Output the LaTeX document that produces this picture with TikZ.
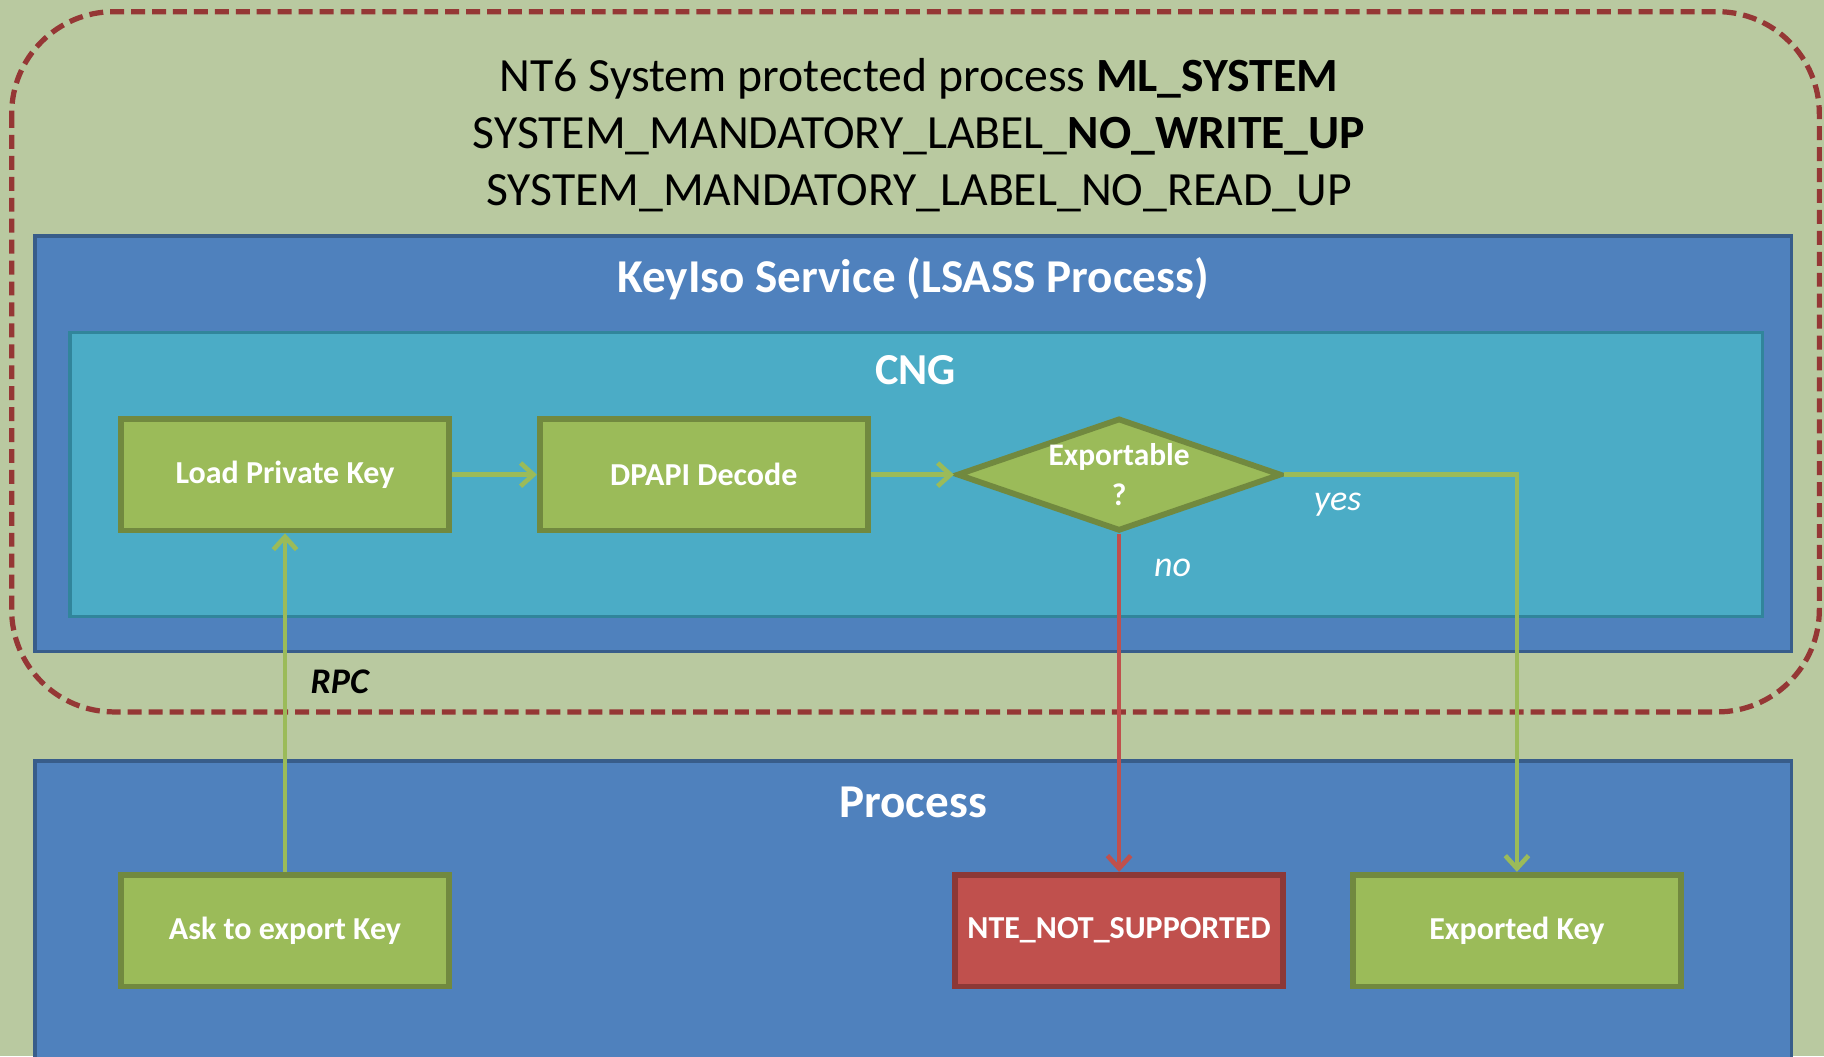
\documentclass[tikz,border=0pt]{standalone}
\usepackage{fontspec}
\setmainfont{Carlito}
\usetikzlibrary{arrows.meta,shapes.geometric}
\definecolor{bgc}{RGB}{185,201,160}
\definecolor{dashc}{RGB}{149,55,53}
\definecolor{bluef}{RGB}{79,129,189}
\definecolor{blued}{RGB}{56,93,138}
\definecolor{tealf}{RGB}{75,172,198}
\definecolor{teald}{RGB}{49,133,155}
\definecolor{greenf}{RGB}{155,187,89}
\definecolor{greend}{RGB}{113,137,63}
\definecolor{redf}{RGB}{192,80,77}
\definecolor{redd}{RGB}{140,56,54}
\tikzset{
  gbox/.style={rectangle, draw=greend, fill=greenf, line width=5pt,
    minimum width=282pt, minimum height=96pt, inner sep=0pt, text=white,
    font=\fontsize{27.5}{32}\selectfont\bfseries},
  rbox/.style={gbox, draw=redd, fill=redf},
  gdia/.style={diamond, draw=greend, fill=greenf, line width=5pt, aspect=2.9,
    minimum width=279pt, minimum height=97pt, inner sep=0pt},
  diatext/.style={text=white, align=center, font=\fontsize{27}{34}\selectfont\bfseries},
  container/.style={line width=3pt},
  boxtitle/.style={text=white, font=\fontsize{40.5}{48}\selectfont\bfseries},
  garr/.style={line width=4pt, draw=greenf, -{Straight Barb[length=11pt,width=20pt]}},
  rarr/.style={line width=4pt, draw=redf, -{Straight Barb[length=11pt,width=20pt]}},
  lblw/.style={text=white, font=\fontsize{31}{36}\selectfont\itshape},
  lblk/.style={text=black, font=\fontsize{31}{36}\selectfont\bfseries\itshape},
}
\begin{document}
\begin{tikzpicture}[x=1pt,y=-1pt]
\useasboundingbox (0,0) rectangle (1568,908);
\clip (0,0) rectangle (1568,908);
\fill[bgc] (0,0) rectangle (1568,908);

% protected process boundary
\draw[dashc, line width=4.5pt, dash pattern=on 12pt off 6pt, rounded corners=88pt]
  (10,10) rectangle (1564,612);
\node[font=\fontsize{41}{49}\selectfont, align=center] (title) at (790,116)
  {NT6 System protected process \textbf{ML\_SYSTEM}\\
   SYSTEM\_MANDATORY\_LABEL\_\textbf{NO\_WRITE\_UP}\\
   SYSTEM\_MANDATORY\_LABEL\_NO\_READ\_UP};

% KeyIso service
\draw[container, fill=bluef, draw=blued] (30,203) rectangle (1540,560);
\node[boxtitle] (keyiso) at (785,240) {KeyIso Service (LSASS Process)};

% CNG
\draw[container, fill=tealf, draw=teald] (60,286) rectangle (1515,530);
\node[boxtitle, font=\fontsize{38}{46}\selectfont\bfseries] (cng) at (787,318) {CNG};

% Process
\draw[container, fill=bluef, draw=blued] (30,654) rectangle (1540,940);
\node[boxtitle] (proc) at (785,690) {Process};

% nodes
\node[gbox] (load) at (245,408) {Load Private Key};
\node[gbox] (dpapi) at (605,408) {DPAPI Decode};
\node[gdia] (exp) at (962,408) {};
\node[diatext] (exptxt) at (exp.center) {Exportable\\?};
\node[gbox] (ask) at (245,800) {Ask to export Key};
\node[rbox] (nte) at (962,800) {NTE\_NOT\_SUPPORTED};
\node[gbox] (expkey) at (1304,800) {Exported Key};

% connectors
\draw[garr] (load) -- (dpapi);
\draw[garr] (dpapi) -- (exp);
\draw[garr] (exp.east) -| (expkey.north);
\draw[rarr] (exp.south) -- (nte.north);
\draw[garr] (ask.north) -- (load.south);

% labels
\node[lblw] (yes) at (1150,434) {yes};
\node[lblw] (no) at (1008,488) {no};
\node[lblk] (rpc) at (292,586) {RPC};
\end{tikzpicture}
\end{document}
